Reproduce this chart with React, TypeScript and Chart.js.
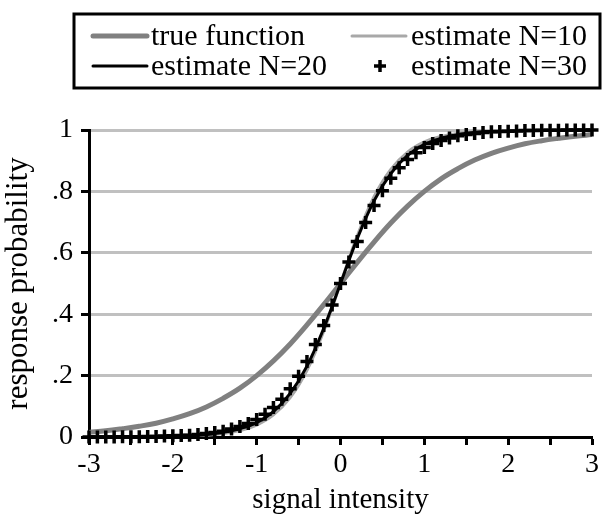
import React, { useEffect, useRef } from 'react';
import { Chart, registerables } from 'chart.js';

Chart.register(...registerables);

// x positions of the smooth curves
const lineX = [
  -3, -2.8, -2.6, -2.4, -2.2, -2, -1.8, -1.6, -1.4, -1.2, -1, -0.8, -0.6, -0.4, -0.2,
  0, 0.2, 0.4, 0.6, 0.8, 1, 1.2, 1.4, 1.6, 1.8, 2, 2.2, 2.4, 2.6, 2.8, 3,
];

const trueFunction = [
  0.015, 0.02, 0.027, 0.035, 0.045, 0.059, 0.076, 0.098, 0.126, 0.159, 0.2, 0.248, 0.303, 0.365, 0.431,
  0.5, 0.569, 0.635, 0.697, 0.752, 0.8, 0.841, 0.874, 0.902, 0.924, 0.941, 0.955, 0.965, 0.973, 0.98, 0.985,
];

const estimateN10 = [
  0, 0, 0, 0, 0.001, 0.002, 0.003, 0.006, 0.011, 0.021, 0.039, 0.072, 0.128, 0.217, 0.345,
  0.5, 0.655, 0.783, 0.872, 0.928, 0.961, 0.979, 0.989, 0.994, 0.997, 0.998, 0.999, 1, 1, 1, 1,
];

const estimateN20 = [
  0, 0, 0, 0.001, 0.001, 0.002, 0.004, 0.008, 0.015, 0.027, 0.047, 0.083, 0.142, 0.231, 0.354,
  0.5, 0.646, 0.769, 0.858, 0.917, 0.953, 0.973, 0.985, 0.992, 0.996, 0.998, 0.999, 0.999, 1, 1, 1,
];

// x positions of the N=30 markers
const crossX = [
  -3, -2.9, -2.8, -2.7, -2.6, -2.5, -2.4, -2.3, -2.2, -2.1, -2, -1.9, -1.8, -1.7, -1.6, -1.5,
  -1.4, -1.3, -1.2, -1.1, -1, -0.9, -0.8, -0.7, -0.6, -0.5, -0.4, -0.3, -0.2, -0.1,
  0, 0.1, 0.2, 0.3, 0.4, 0.5, 0.6, 0.7, 0.8, 0.9, 1, 1.1, 1.2, 1.3, 1.4, 1.5,
  1.6, 1.7, 1.8, 1.9, 2, 2.1, 2.2, 2.3, 2.4, 2.5, 2.6, 2.7, 2.8, 2.9, 3,
];

const estimateN30 = [
  0, 0, 0, 0, 0.001, 0.001, 0.001, 0.002, 0.002, 0.003, 0.004, 0.005, 0.006, 0.008, 0.011, 0.015,
  0.019, 0.026, 0.034, 0.044, 0.057, 0.074, 0.096, 0.123, 0.157, 0.198, 0.246, 0.301, 0.363, 0.43,
  0.5, 0.57, 0.637, 0.699, 0.754, 0.802, 0.843, 0.877, 0.904, 0.926, 0.943, 0.956, 0.966, 0.974, 0.981, 0.985,
  0.989, 0.992, 0.994, 0.995, 0.996, 0.997, 0.998, 0.998, 0.999, 0.999, 0.999, 1, 1, 1, 1,
];

const yTickLabels = ['0', '.2', '.4', '.6', '.8', '1'];
const xTickLabels = ['-3', '-2', '-1', '0', '1', '2', '3'];

const seriesLabels = ['true function', 'estimate N=10', 'estimate N=20', 'estimate N=30'];

const FONT = '"Liberation Serif", "Times New Roman", serif';

const boxLegend = {
  id: 'boxLegend',
  afterDraw(chart: any) {
    const ctx = chart.ctx as CanvasRenderingContext2D;
    const ds = chart.data.datasets;
    ctx.save();
    ctx.strokeStyle = '#000';
    ctx.lineWidth = 3;
    ctx.strokeRect(74, 14, 526, 74);
    ctx.font = '30px ' + FONT;
    ctx.fillStyle = '#000';
    ctx.textBaseline = 'middle';
    ctx.textAlign = 'left';
    const rows = [36, 66];
    const items = [
      { ds: ds[0], x: 93, y: rows[0], tx: 151, kind: 'line' },
      { ds: ds[1], x: 352, y: rows[0], tx: 411, kind: 'line' },
      { ds: ds[2], x: 93, y: rows[1], tx: 151, kind: 'line' },
      { ds: ds[3], x: 380, y: rows[1], tx: 411, kind: 'cross' },
    ];
    items.forEach((it) => {
      if (it.kind === 'line') {
        ctx.beginPath();
        ctx.strokeStyle = it.ds.borderColor;
        ctx.lineWidth = it.ds.borderWidth;
        ctx.lineCap = 'round';
        ctx.moveTo(it.x, it.y);
        ctx.lineTo(it.x + 54, it.y);
        ctx.stroke();
      } else {
        ctx.beginPath();
        ctx.strokeStyle = it.ds.borderColor;
        ctx.lineWidth = 3.5;
        ctx.lineCap = 'butt';
        ctx.moveTo(it.x - 6, it.y);
        ctx.lineTo(it.x + 6, it.y);
        ctx.moveTo(it.x, it.y - 6);
        ctx.lineTo(it.x, it.y + 6);
        ctx.stroke();
      }
      ctx.fillStyle = '#000';
      ctx.fillText(it.ds.label, it.tx, it.y + 1);
    });
    ctx.restore();
  },
};

export default function App() {
  const ref = useRef<HTMLCanvasElement | null>(null);

  useEffect(() => {
    if (!ref.current) return;
    const toPts = (xs: number[], ys: number[]) => xs.map((x, i) => ({ x, y: ys[i] }));
    const chart = new Chart(ref.current, {
      type: 'line',
      data: {
        datasets: [
          {
            label: seriesLabels[0],
            data: toPts(lineX, trueFunction),
            borderColor: '#808080',
            borderWidth: 5,
            pointRadius: 0,
            tension: 0.4,
            fill: false,
            order: 3,
          },
          {
            label: seriesLabels[1],
            data: toPts(lineX, estimateN10),
            borderColor: '#a8a8a8',
            borderWidth: 3,
            pointRadius: 0,
            tension: 0.4,
            fill: false,
            order: 2,
          },
          {
            label: seriesLabels[2],
            data: toPts(lineX, estimateN20),
            borderColor: '#000000',
            borderWidth: 3,
            pointRadius: 0,
            tension: 0.4,
            fill: false,
            order: 1,
          },
          {
            label: seriesLabels[3],
            data: toPts(crossX, estimateN30),
            borderColor: '#000000',
            backgroundColor: '#000000',
            showLine: false,
            pointStyle: 'cross',
            pointRadius: 6.5,
            pointBorderWidth: 3.5,
            pointHoverRadius: 6.5,
            clip: false,
            order: 0,
          },
        ] as any,
      },
      options: {
        animation: false,
        responsive: false,
        events: [],
        layout: { padding: { top: 130, right: 6, left: 0, bottom: 0 } },
        plugins: {
          legend: { display: false },
          tooltip: { enabled: false },
        },
        scales: {
          x: {
            type: 'linear',
            min: -3,
            max: 3,
            afterFit: (s: any) => {
              s.height = 83;
            },
            ticks: {
              stepSize: 0.5,
              autoSkip: false,
              maxRotation: 0,
              color: '#000',
              padding: 3,
              font: { family: FONT, size: 28 },
              callback: (v: any) => {
                const n = Number(v);
                if (Math.abs(n - Math.round(n)) > 1e-6) return '';
                return xTickLabels[Math.round(n) + 3];
              },
            },
            grid: {
              drawOnChartArea: false,
              drawTicks: true,
              tickLength: 8,
              tickColor: '#000',
              tickWidth: 3,
            },
            border: { display: true, color: '#000', width: 3 },
            title: {
              display: true,
              text: 'signal intensity',
              color: '#000',
              font: { family: FONT, size: 29 },
              padding: { top: 0, bottom: 2 },
            },
          },
          y: {
            type: 'linear',
            min: 0,
            max: 1,
            afterFit: (s: any) => {
              s.width = 89;
            },
            ticks: {
              stepSize: 0.2,
              color: '#000',
              padding: 8,
              font: { family: FONT, size: 28 },
              callback: (_v: any, i: number) => yTickLabels[i],
            },
            grid: {
              color: '#c0c0c0',
              lineWidth: 3,
              drawTicks: true,
              tickLength: 8,
              tickColor: '#000',
              tickWidth: 3,
            },
            border: { display: true, color: '#000', width: 3 },
            title: {
              display: true,
              text: 'response probability',
              color: '#000',
              font: { family: FONT, size: 31 },
              padding: { top: 0, bottom: 0 },
            },
          },
        },
      },
      plugins: [boxLegend],
    });
    return () => chart.destroy();
  }, []);

  return (
    <div style={{ position: 'fixed', left: 0, top: 0, width: 602, height: 520, background: '#fff' }}>
      <canvas ref={ref} width={602} height={520} style={{ display: 'block' }} />
    </div>
  );
}
